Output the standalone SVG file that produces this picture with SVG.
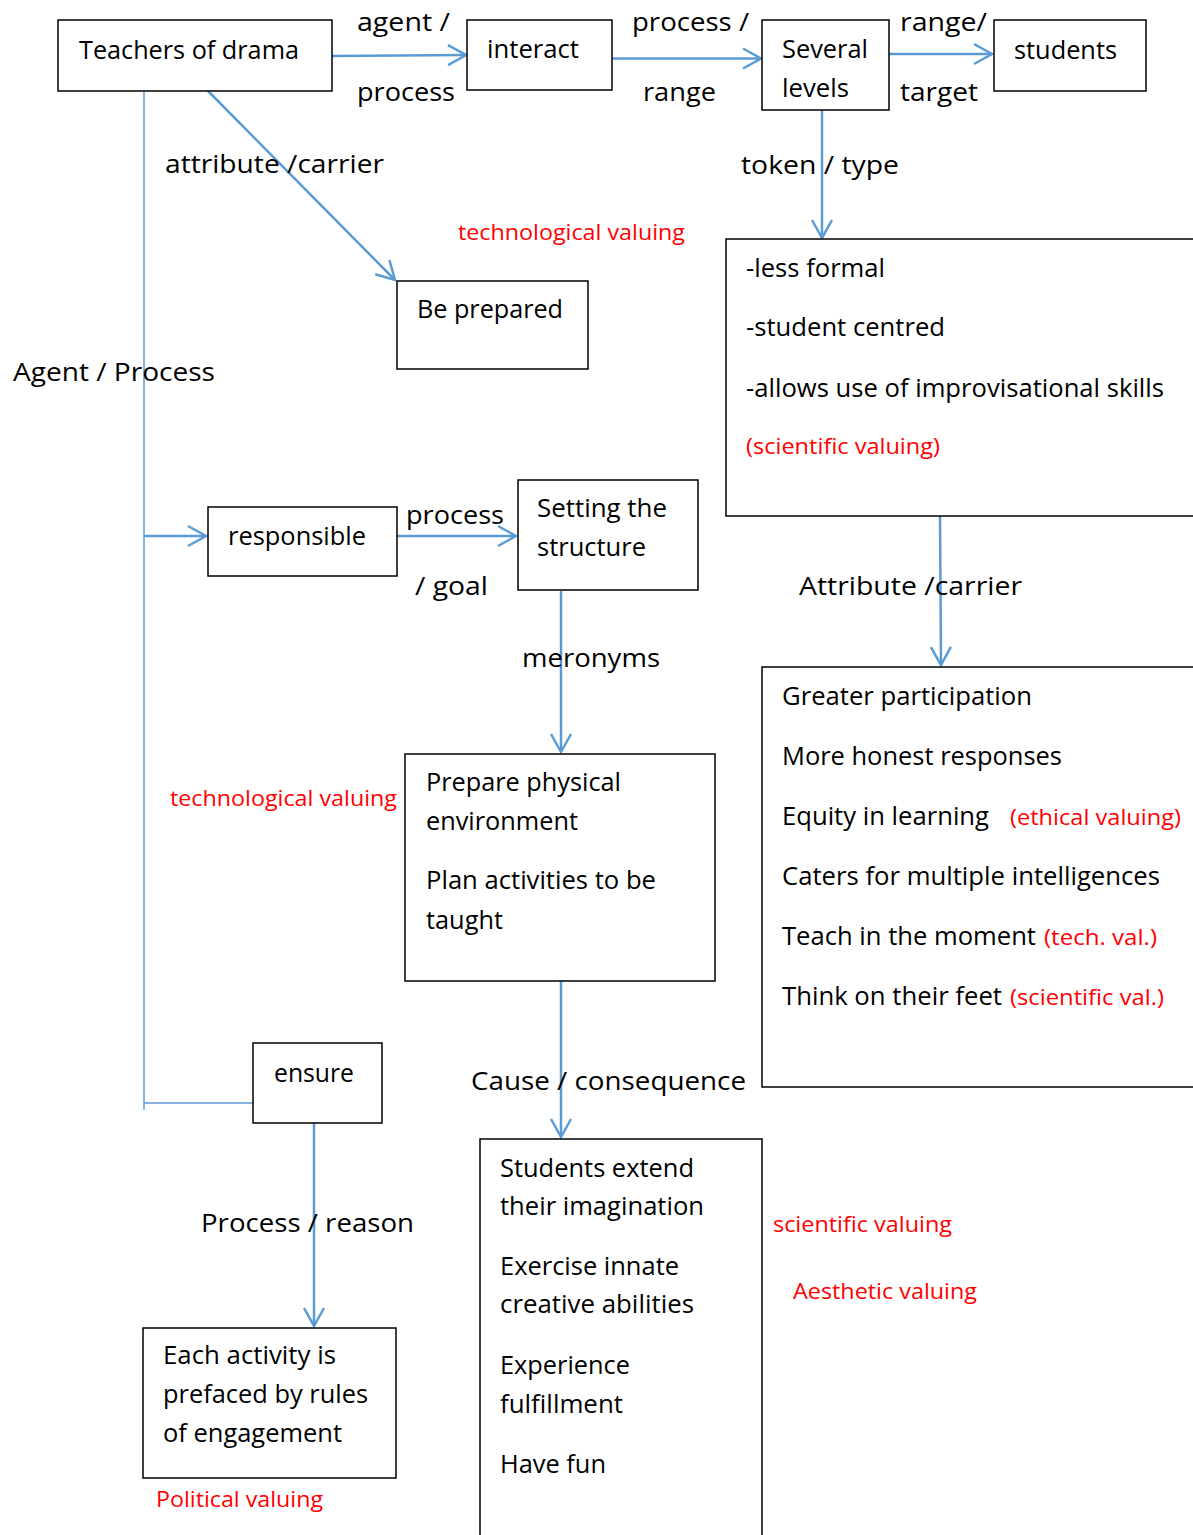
<svg xmlns="http://www.w3.org/2000/svg" width="1193" height="1535" viewBox="0 0 1193 1535">
<style>
.box{fill:#fff;stroke:#000;stroke-width:1.5}
text{font-family:"Open Sans","Liberation Sans",sans-serif;font-size:26px;fill:#000}
text.r{font-size:22px;fill:#f00}
.c{stroke:#5B9BD5;stroke-width:2.5;fill:none}
.thin{stroke:#5B9BD5;stroke-width:1.5;fill:none}
</style>
<defs>
<marker id="arr" markerUnits="userSpaceOnUse" viewBox="0 0 22 24" markerWidth="22" markerHeight="24" refX="20" refY="12" orient="auto" overflow="visible">
<path d="M2,2 L20,12 L2,22" fill="none" stroke="#5B9BD5" stroke-width="2.5"/>
</marker>
</defs>
<rect width="1193" height="1535" fill="#fff"/>
<g id="connectors">
<line class="c" x1="332" y1="56" x2="466" y2="55" marker-end="url(#arr)"/>
<line class="c" x1="612" y1="58.5" x2="761" y2="58.5" marker-end="url(#arr)"/>
<line class="c" x1="889" y1="54" x2="992" y2="54" marker-end="url(#arr)"/>
<line class="c" x1="208" y1="91" x2="395" y2="280" marker-end="url(#arr)"/>
<line class="c" x1="822" y1="110" x2="822" y2="238" marker-end="url(#arr)"/>
<polyline class="thin" points="144,91 144,1110"/>
<line class="thin" x1="144" y1="1103" x2="253" y2="1103"/>
<line class="c" x1="144" y1="536" x2="206" y2="536" marker-end="url(#arr)"/>
<line class="c" x1="397" y1="536" x2="516" y2="536" marker-end="url(#arr)"/>
<line class="c" x1="561" y1="591" x2="561" y2="752" marker-end="url(#arr)"/>
<line class="c" x1="940" y1="516" x2="941" y2="665" marker-end="url(#arr)"/>
<line class="c" x1="561" y1="981" x2="561" y2="1137" marker-end="url(#arr)"/>
<line class="c" x1="314" y1="1123" x2="314" y2="1326" marker-end="url(#arr)"/>
<text x="357" y="31" textLength="93" lengthAdjust="spacingAndGlyphs">agent /</text>
<text x="357" y="101" textLength="98" lengthAdjust="spacingAndGlyphs">process</text>
<text x="632" y="31" textLength="117" lengthAdjust="spacingAndGlyphs">process /</text>
<text x="643" y="101" textLength="73" lengthAdjust="spacingAndGlyphs">range</text>
<text x="900" y="31" textLength="87" lengthAdjust="spacingAndGlyphs">range/</text>
<text x="900" y="101" textLength="78" lengthAdjust="spacingAndGlyphs">target</text>
<text x="165" y="173" textLength="219" lengthAdjust="spacingAndGlyphs">attribute /carrier</text>
<text x="741" y="174" textLength="158" lengthAdjust="spacingAndGlyphs">token / type</text>
<text x="13" y="381" textLength="202" lengthAdjust="spacingAndGlyphs">Agent / Process</text>
<text x="406" y="524" textLength="98" lengthAdjust="spacingAndGlyphs">process</text>
<text x="415" y="595" textLength="73" lengthAdjust="spacingAndGlyphs">/ goal</text>
<text x="799" y="595" textLength="223" lengthAdjust="spacingAndGlyphs">Attribute /carrier</text>
<text x="522" y="667" textLength="138" lengthAdjust="spacingAndGlyphs">meronyms</text>
<text x="471" y="1090" textLength="275" lengthAdjust="spacingAndGlyphs">Cause / consequence</text>
<text x="201" y="1232" textLength="213" lengthAdjust="spacingAndGlyphs">Process / reason</text>
</g>
<g id="teachers">
<rect class="box" x="58" y="20" width="274" height="71"/>
<text x="79" y="59" textLength="220" lengthAdjust="spacingAndGlyphs">Teachers of drama</text>
</g>
<g id="interact">
<rect class="box" x="467" y="20" width="145" height="70"/>
<text x="487" y="58" textLength="92" lengthAdjust="spacingAndGlyphs">interact</text>
</g>
<g id="several-levels">
<rect class="box" x="762" y="20" width="127" height="90"/>
<text x="782" y="58" textLength="86" lengthAdjust="spacingAndGlyphs">Several</text>
<text x="782" y="97" textLength="67" lengthAdjust="spacingAndGlyphs">levels</text>
</g>
<g id="students">
<rect class="box" x="994" y="20" width="152" height="71"/>
<text x="1014" y="59" textLength="103" lengthAdjust="spacingAndGlyphs">students</text>
</g>
<g id="be-prepared">
<rect class="box" x="397" y="281" width="191" height="88"/>
<text x="417" y="318" textLength="146" lengthAdjust="spacingAndGlyphs">Be prepared</text>
</g>
<g id="less-formal">
<rect class="box" x="726" y="239" width="480" height="277"/>
<text x="746" y="277" textLength="139" lengthAdjust="spacingAndGlyphs">-less formal</text>
<text x="746" y="336" textLength="199" lengthAdjust="spacingAndGlyphs">-student centred</text>
<text x="746" y="397" textLength="418" lengthAdjust="spacingAndGlyphs">-allows use of improvisational skills</text>
<text class="r" x="746" y="454" textLength="194" lengthAdjust="spacingAndGlyphs">(scientific valuing)</text>
</g>
<g id="responsible">
<rect class="box" x="208" y="507" width="189" height="69"/>
<text x="228" y="545" textLength="138" lengthAdjust="spacingAndGlyphs">responsible</text>
</g>
<g id="setting-structure">
<rect class="box" x="518" y="480" width="180" height="110"/>
<text x="537" y="517" textLength="130" lengthAdjust="spacingAndGlyphs">Setting the</text>
<text x="537" y="556" textLength="109" lengthAdjust="spacingAndGlyphs">structure</text>
</g>
<g id="prepare">
<rect class="box" x="405" y="754" width="310" height="227"/>
<text x="426" y="791" textLength="195" lengthAdjust="spacingAndGlyphs">Prepare physical</text>
<text x="426" y="830" textLength="152" lengthAdjust="spacingAndGlyphs">environment</text>
<text x="426" y="889" textLength="230" lengthAdjust="spacingAndGlyphs">Plan activities to be</text>
<text x="426" y="929" textLength="77" lengthAdjust="spacingAndGlyphs">taught</text>
</g>
<g id="greater-participation">
<rect class="box" x="762" y="667" width="444" height="420"/>
<text x="782" y="705" textLength="250" lengthAdjust="spacingAndGlyphs">Greater participation</text>
<text x="782" y="765" textLength="280" lengthAdjust="spacingAndGlyphs">More honest responses</text>
<text x="782" y="825" textLength="207" lengthAdjust="spacingAndGlyphs">Equity in learning</text>
<text class="r" x="1010" y="825" textLength="171" lengthAdjust="spacingAndGlyphs">(ethical valuing)</text>
<text x="782" y="885" textLength="378" lengthAdjust="spacingAndGlyphs">Caters for multiple intelligences</text>
<text x="782" y="945" textLength="254" lengthAdjust="spacingAndGlyphs">Teach in the moment</text>
<text class="r" x="1044" y="945" textLength="113" lengthAdjust="spacingAndGlyphs">(tech. val.)</text>
<text x="782" y="1005" textLength="220" lengthAdjust="spacingAndGlyphs">Think on their feet</text>
<text class="r" x="1010" y="1005" textLength="154" lengthAdjust="spacingAndGlyphs">(scientific val.)</text>
</g>
<g id="ensure">
<rect class="box" x="253" y="1043" width="129" height="80"/>
<text x="274" y="1082" textLength="80" lengthAdjust="spacingAndGlyphs">ensure</text>
</g>
<g id="students-extend">
<rect class="box" x="480" y="1139" width="282" height="410"/>
<text x="500" y="1177" textLength="194" lengthAdjust="spacingAndGlyphs">Students extend</text>
<text x="500" y="1215" textLength="204" lengthAdjust="spacingAndGlyphs">their imagination</text>
<text x="500" y="1275" textLength="179" lengthAdjust="spacingAndGlyphs">Exercise innate</text>
<text x="500" y="1313" textLength="194" lengthAdjust="spacingAndGlyphs">creative abilities</text>
<text x="500" y="1374" textLength="130" lengthAdjust="spacingAndGlyphs">Experience</text>
<text x="500" y="1413" textLength="123" lengthAdjust="spacingAndGlyphs">fulfillment</text>
<text x="500" y="1473" textLength="106" lengthAdjust="spacingAndGlyphs">Have fun</text>
</g>
<g id="each-activity">
<rect class="box" x="143" y="1328" width="253" height="150"/>
<text x="163" y="1364" textLength="173" lengthAdjust="spacingAndGlyphs">Each activity is</text>
<text x="163" y="1403" textLength="205" lengthAdjust="spacingAndGlyphs">prefaced by rules</text>
<text x="163" y="1442" textLength="179" lengthAdjust="spacingAndGlyphs">of engagement</text>
</g>
<g id="annotations">
<text class="r" x="458" y="240" textLength="227" lengthAdjust="spacingAndGlyphs">technological valuing</text>
<text class="r" x="170" y="806" textLength="227" lengthAdjust="spacingAndGlyphs">technological valuing</text>
<text class="r" x="773" y="1232" textLength="179" lengthAdjust="spacingAndGlyphs">scientific valuing</text>
<text class="r" x="793" y="1299" textLength="184" lengthAdjust="spacingAndGlyphs">Aesthetic valuing</text>
<text class="r" x="156" y="1507" textLength="167" lengthAdjust="spacingAndGlyphs">Political valuing</text>
</g>
</svg>
